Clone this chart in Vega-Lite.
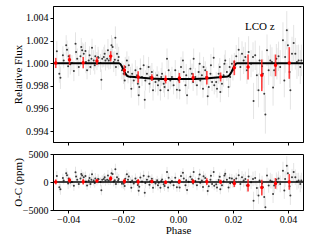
{
  "$schema": "https://vega.github.io/schema/vega-lite/v6.json",
  "padding": {"left": 11, "top": 5, "right": 5, "bottom": 0},
  "config": {
    "font": "Liberation Serif",
    "view": {"stroke": "black", "strokeWidth": 1},
    "axis": {"grid": false, "labelFont": "Liberation Serif", "titleFont": "Liberation Serif", "labelFontSize": 10, "titleFontSize": 11, "titleFontWeight": "normal", "labelColor": "black", "titleColor": "black", "tickColor": "black", "domainColor": "black", "tickSize": 3, "labelPadding": 2, "domainWidth": 1},
    "axisY": {"minExtent": 30, "maxExtent": 30, "titlePadding": 0}
  },
  "datasets": {
    "pts": [
      {"p":-0.0441,"f":1.00105,"r":1050,"e":0.0009,"er":900},{"p":-0.0432,"f":0.99907,"r":-930,"e":0.0008,"er":800},{"p":-0.0428,"f":0.99872,"r":-1280,"e":0.001,"er":1000},{"p":-0.0419,"f":1.0007,"r":700,"e":0.0008,"er":800},{"p":-0.0416,"f":1.00025,"r":250,"e":0.0007,"er":700},{"p":-0.0407,"f":1.00158,"r":1580,"e":0.0009,"er":900},{"p":-0.0404,"f":1.0012,"r":1200,"e":0.0008,"er":800},{"p":-0.04,"f":0.99972,"r":-280,"e":0.001,"er":1000},{"p":-0.0398,"f":1.00061,"r":610,"e":0.0008,"er":800},{"p":-0.0392,"f":0.9999,"r":-100,"e":0.0009,"er":900},
      {"p":-0.0386,"f":1.00002,"r":20,"e":0.0007,"er":700},{"p":-0.0379,"f":0.99931,"r":-690,"e":0.0009,"er":900},{"p":-0.0373,"f":1.00173,"r":1730,"e":0.001,"er":1000},{"p":-0.0371,"f":1.00099,"r":990,"e":0.0008,"er":800},{"p":-0.0367,"f":1.0004,"r":400,"e":0.0009,"er":900},{"p":-0.0361,"f":0.99966,"r":-340,"e":0.0008,"er":800},{"p":-0.0355,"f":1.00061,"r":610,"e":0.0009,"er":900},{"p":-0.0352,"f":1.00143,"r":1430,"e":0.0008,"er":800},{"p":-0.0349,"f":1.00114,"r":1140,"e":0.0007,"er":700},{"p":-0.0343,"f":1.00084,"r":840,"e":0.0009,"er":900},
      {"p":-0.0337,"f":1.00108,"r":1080,"e":0.0008,"er":800},{"p":-0.0335,"f":1.00011,"r":110,"e":0.001,"er":1000},{"p":-0.0331,"f":0.99937,"r":-630,"e":0.0008,"er":800},{"p":-0.0325,"f":1.00025,"r":250,"e":0.0009,"er":900},{"p":-0.0322,"f":1.0007,"r":700,"e":0.0008,"er":800},{"p":-0.0319,"f":0.99966,"r":-340,"e":0.0007,"er":700},{"p":-0.0315,"f":1.0004,"r":400,"e":0.0009,"er":900},{"p":-0.0313,"f":1.00137,"r":1370,"e":0.0008,"er":800},{"p":-0.0307,"f":1.00025,"r":250,"e":0.0009,"er":900},{"p":-0.0303,"f":0.99981,"r":-190,"e":0.0008,"er":800},
      {"p":-0.0301,"f":1.00061,"r":610,"e":0.001,"er":1000},{"p":-0.0295,"f":1.00019,"r":190,"e":0.0008,"er":800},{"p":-0.0291,"f":1.00055,"r":550,"e":0.0009,"er":900},{"p":-0.0289,"f":1.00049,"r":490,"e":0.0007,"er":700},{"p":-0.0282,"f":1.00002,"r":20,"e":0.0008,"er":800},{"p":-0.0279,"f":0.99854,"r":-1460,"e":0.0009,"er":900},{"p":-0.0276,"f":1.0004,"r":400,"e":0.0008,"er":800},{"p":-0.027,"f":1.00055,"r":550,"e":0.0009,"er":900},{"p":-0.0267,"f":1.00084,"r":840,"e":0.0008,"er":800},{"p":-0.0264,"f":1.00025,"r":250,"e":0.0009,"er":900},
      {"p":-0.0258,"f":1.0004,"r":400,"e":0.0008,"er":800},{"p":-0.0255,"f":1.00114,"r":1140,"e":0.001,"er":1000},{"p":-0.0252,"f":1.00025,"r":250,"e":0.0008,"er":800},{"p":-0.0246,"f":1.0004,"r":400,"e":0.0009,"er":900},{"p":-0.0242,"f":1.00158,"r":1580,"e":0.0009,"er":900},{"p":-0.0238,"f":1.00143,"r":1430,"e":0.0008,"er":800},{"p":-0.0234,"f":1.00011,"r":110,"e":0.0009,"er":900},{"p":-0.023,"f":1.00031,"r":310,"e":0.0008,"er":800},{"p":-0.0228,"f":1.00226,"r":2260,"e":0.001,"er":1000},{"p":-0.0226,"f":0.99966,"r":-340,"e":0.0008,"er":800},
      {"p":-0.0222,"f":1.00084,"r":840,"e":0.0009,"er":900},{"p":-0.0218,"f":1.00025,"r":250,"e":0.0008,"er":800},{"p":-0.0216,"f":1.00055,"r":550,"e":0.0009,"er":900},{"p":-0.0204,"f":0.99937,"r":-310,"e":0.0008,"er":800},{"p":-0.0198,"f":0.99907,"r":-310,"e":0.0009,"er":900},{"p":-0.0194,"f":0.99848,"r":-720,"e":0.0008,"er":800},{"p":-0.0192,"f":0.99966,"r":560,"e":0.0009,"er":900},{"p":-0.0186,"f":1.00025,"r":1370,"e":0.0008,"er":800},{"p":-0.0182,"f":0.99922,"r":400,"e":0.001,"er":1000},{"p":-0.0179,"f":0.99981,"r":1000,"e":0.0008,"er":800},
      {"p":-0.0173,"f":0.99878,"r":-10,"e":0.0009,"er":900},{"p":-0.017,"f":0.99775,"r":-1030,"e":0.0008,"er":800},{"p":-0.0167,"f":0.99907,"r":290,"e":0.0009,"er":900},{"p":-0.0161,"f":0.99848,"r":-290,"e":0.0008,"er":800},{"p":-0.0155,"f":0.99937,"r":620,"e":0.0009,"er":900},{"p":-0.0149,"f":0.99893,"r":180,"e":0.0008,"er":800},{"p":-0.0146,"f":0.99819,"r":-540,"e":0.001,"er":1000},{"p":-0.0143,"f":0.99716,"r":-1570,"e":0.0009,"er":900},{"p":-0.0141,"f":0.9979,"r":-830,"e":0.0008,"er":800},{"p":-0.0137,"f":0.99952,"r":800,"e":0.0009,"er":900},
      {"p":-0.0131,"f":0.99878,"r":80,"e":0.0008,"er":800},{"p":-0.0125,"f":0.99981,"r":1120,"e":0.0009,"er":900},{"p":-0.0121,"f":0.99677,"r":-1920,"e":0.0008,"er":800},{"p":-0.0119,"f":0.99848,"r":-200,"e":0.0009,"er":900},{"p":-0.0113,"f":0.99907,"r":400,"e":0.0008,"er":800},{"p":-0.0107,"f":0.99966,"r":1000,"e":0.0009,"er":900},{"p":-0.0104,"f":0.99819,"r":-470,"e":0.0008,"er":800},{"p":-0.0101,"f":0.99878,"r":130,"e":0.001,"er":1000},{"p":-0.0095,"f":0.99922,"r":580,"e":0.0008,"er":800},{"p":-0.0091,"f":0.9976,"r":-1040,"e":0.0009,"er":900},
      {"p":-0.0089,"f":0.99863,"r":-10,"e":0.0008,"er":800},{"p":-0.0082,"f":0.99834,"r":-290,"e":0.0009,"er":900},{"p":-0.0076,"f":0.99893,"r":310,"e":0.0008,"er":800},{"p":-0.0073,"f":0.99804,"r":-580,"e":0.0009,"er":900},{"p":-0.007,"f":0.99848,"r":-140,"e":0.0008,"er":800},{"p":-0.0064,"f":0.9976,"r":-1010,"e":0.0009,"er":900},{"p":-0.0061,"f":0.99878,"r":170,"e":0.0008,"er":800},{"p":-0.0058,"f":0.99907,"r":460,"e":0.001,"er":1000},{"p":-0.0052,"f":0.99819,"r":-410,"e":0.0008,"er":800},{"p":-0.0049,"f":0.9979,"r":-700,"e":0.0009,"er":900},
      {"p":-0.0046,"f":0.99848,"r":-120,"e":0.0008,"er":800},{"p":-0.004,"f":1.0004,"r":1800,"e":0.0009,"er":900},{"p":-0.0036,"f":0.9976,"r":-1000,"e":0.0008,"er":800},{"p":-0.0034,"f":0.99937,"r":770,"e":0.0009,"er":900},{"p":-0.0028,"f":0.99848,"r":-120,"e":0.0008,"er":800},{"p":-0.0022,"f":0.99878,"r":180,"e":0.0009,"er":900},{"p":-0.0016,"f":0.99804,"r":-560,"e":0.0008,"er":800},{"p":-0.001,"f":0.99937,"r":770,"e":0.0009,"er":900},{"p":-0.0004,"f":0.99766,"r":-940,"e":0.0008,"er":800},
      {"p":0.0002,"f":0.99848,"r":-120,"e":0.0009,"er":900},{"p":0.0006,"f":0.9976,"r":-1000,"e":0.0008,"er":800},{"p":0.0011,"f":0.99966,"r":1060,"e":0.0009,"er":900},{"p":0.0018,"f":1.00025,"r":1650,"e":0.0008,"er":800},{"p":0.0021,"f":0.99922,"r":620,"e":0.0009,"er":900},{"p":0.0027,"f":0.99804,"r":-560,"e":0.0008,"er":800},{"p":0.003,"f":0.99893,"r":330,"e":0.001,"er":1000},{"p":0.0033,"f":0.99716,"r":-1440,"e":0.0008,"er":800},{"p":0.0039,"f":0.99863,"r":30,"e":0.0009,"er":900},{"p":0.0045,"f":0.99952,"r":920,"e":0.0008,"er":800},
      {"p":0.0051,"f":0.99907,"r":470,"e":0.0009,"er":900},{"p":0.0055,"f":0.99834,"r":-280,"e":0.0008,"er":800},{"p":0.0057,"f":1.0004,"r":1780,"e":0.0009,"er":900},{"p":0.0063,"f":0.99878,"r":160,"e":0.0008,"er":800},{"p":0.0069,"f":0.99804,"r":-580,"e":0.0009,"er":900},{"p":0.0075,"f":0.99922,"r":600,"e":0.0008,"er":800},{"p":0.0079,"f":0.99996,"r":1340,"e":0.001,"er":1000},{"p":0.0081,"f":0.99848,"r":-150,"e":0.0008,"er":800},{"p":0.0087,"f":0.99893,"r":290,"e":0.0009,"er":900},{"p":0.0091,"f":0.99775,"r":-890,"e":0.0008,"er":800},
      {"p":0.0093,"f":0.99966,"r":1020,"e":0.0009,"er":900},{"p":0.0099,"f":0.99937,"r":720,"e":0.0008,"er":800},{"p":0.0103,"f":0.99878,"r":130,"e":0.0009,"er":900},{"p":0.0108,"f":0.99707,"r":-1590,"e":0.0008,"er":800},{"p":0.0112,"f":0.9979,"r":-770,"e":0.0009,"er":900},{"p":0.0118,"f":0.99907,"r":390,"e":0.0008,"er":800},{"p":0.012,"f":0.99981,"r":1130,"e":0.001,"er":1000},{"p":0.0124,"f":0.99834,"r":-350,"e":0.0008,"er":800},{"p":0.013,"f":1.00049,"r":1790,"e":0.0009,"er":900},{"p":0.0132,"f":0.99804,"r":-660,"e":0.0008,"er":800},
      {"p":0.0139,"f":0.99834,"r":-380,"e":0.0009,"er":900},{"p":0.0142,"f":0.99775,"r":-970,"e":0.0008,"er":800},{"p":0.0148,"f":0.99907,"r":340,"e":0.0009,"er":900},{"p":0.0152,"f":0.99966,"r":920,"e":0.0008,"er":800},{"p":0.0154,"f":0.99745,"r":-1290,"e":0.0009,"er":900},{"p":0.016,"f":0.99819,"r":-570,"e":0.0008,"er":800},{"p":0.0166,"f":0.99893,"r":150,"e":0.001,"er":1000},{"p":0.0169,"f":0.99996,"r":1180,"e":0.0008,"er":800},{"p":0.0172,"f":1.00025,"r":1460,"e":0.0009,"er":900},{"p":0.0178,"f":0.99922,"r":410,"e":0.0008,"er":800},
      {"p":0.0184,"f":0.9979,"r":-960,"e":0.0009,"er":900},{"p":0.0188,"f":0.99966,"r":710,"e":0.0008,"er":800},{"p":0.019,"f":0.99878,"r":-240,"e":0.0009,"er":900},{"p":0.0196,"f":0.99996,"r":640,"e":0.0008,"er":800},{"p":0.02,"f":0.99937,"r":-130,"e":0.0009,"er":900},{"p":0.0205,"f":1.00011,"r":370,"e":0.0008,"er":800},{"p":0.0212,"f":1.00061,"r":630,"e":0.001,"er":1000},{"p":0.0221,"f":1.0012,"r":1200,"e":0.0011,"er":1100},{"p":0.0227,"f":0.99966,"r":-340,"e":0.0012,"er":1200},{"p":0.0233,"f":1.00084,"r":840,"e":0.0011,"er":1100},
      {"p":0.0239,"f":1.00025,"r":250,"e":0.0012,"er":1200},{"p":0.0245,"f":1.00055,"r":550,"e":0.0013,"er":1300},{"p":0.0251,"f":0.99937,"r":-630,"e":0.0012,"er":1200},{"p":0.0257,"f":1.00099,"r":990,"e":0.0014,"er":1400},{"p":0.0266,"f":0.99996,"r":-40,"e":0.0012,"er":1200},{"p":0.0273,"f":1.00055,"r":550,"e":0.0013,"er":1300},{"p":0.0275,"f":0.99666,"r":-3340,"e":0.0016,"er":1600},{"p":0.0281,"f":1.0007,"r":700,"e":0.0013,"er":1300},{"p":0.0287,"f":0.99893,"r":-1070,"e":0.0014,"er":1400},{"p":0.0293,"f":0.9976,"r":-2400,"e":0.0015,"er":1500},
      {"p":0.0297,"f":1.00025,"r":250,"e":0.0013,"er":1300},{"p":0.0306,"f":0.99972,"r":-280,"e":0.0014,"er":1400},{"p":0.0309,"f":0.99907,"r":-930,"e":0.0013,"er":1300},{"p":0.0314,"f":0.9973,"r":-2700,"e":0.0016,"er":1600},{"p":0.0318,"f":0.99547,"r":-4530,"e":0.0017,"er":1700},{"p":0.0324,"f":1.00114,"r":1140,"e":0.0014,"er":1400},{"p":0.033,"f":0.99937,"r":-630,"e":0.0013,"er":1300},{"p":0.0336,"f":1.00025,"r":250,"e":0.0014,"er":1400},{"p":0.0342,"f":1.00011,"r":110,"e":0.0013,"er":1300},{"p":0.0346,"f":0.99784,"r":-2160,"e":0.0016,"er":1600},
      {"p":0.035,"f":0.99937,"r":-630,"e":0.0014,"er":1400},{"p":0.0358,"f":1.0004,"r":400,"e":0.0013,"er":1300},{"p":0.036,"f":0.99996,"r":-40,"e":0.0014,"er":1400},{"p":0.0366,"f":1.00061,"r":610,"e":0.0013,"er":1300},{"p":0.0372,"f":0.99966,"r":-340,"e":0.0015,"er":1500},{"p":0.0382,"f":1.00202,"r":2020,"e":0.0016,"er":1600},{"p":0.0387,"f":0.99848,"r":-1520,"e":0.0015,"er":1500},{"p":0.039,"f":1.00055,"r":550,"e":0.0014,"er":1400},{"p":0.0396,"f":1.00291,"r":2910,"e":0.0017,"er":1700},{"p":0.04,"f":1.00158,"r":1580,"e":0.0015,"er":1500},
      {"p":0.0406,"f":0.99922,"r":-780,"e":0.0014,"er":1400},{"p":0.0409,"f":0.9976,"r":-2400,"e":0.0017,"er":1700},{"p":0.0415,"f":1.00084,"r":840,"e":0.0015,"er":1500},{"p":0.0421,"f":1.00179,"r":1790,"e":0.0016,"er":1600},{"p":0.0427,"f":1.00084,"r":840,"e":0.0014,"er":1400},{"p":0.0433,"f":1.00011,"r":110,"e":0.0015,"er":1500},{"p":0.0439,"f":1.00025,"r":250,"e":0.0014,"er":1400},{"p":0.0445,"f":0.99966,"r":-340,"e":0.0015,"er":1500},{"p":0.0449,"f":1.00025,"r":250,"e":0.0014,"er":1400}
    ],
    "bins": [
      {"p":-0.0445,"f":1.00002,"r":20,"e":0.00045,"er":450},
      {"p":-0.0395,"f":1.00031,"r":310,"e":0.00045,"er":450},
      {"p":-0.0345,"f":1.00005,"r":50,"e":0.0005,"er":500},
      {"p":-0.0295,"f":1.0002,"r":200,"e":0.00035,"er":350},
      {"p":-0.0245,"f":1.00061,"r":610,"e":0.00045,"er":450},
      {"p":-0.0195,"f":0.99937,"r":120,"e":0.00045,"er":450},
      {"p":-0.0145,"f":0.99878,"r":50,"e":0.0005,"er":500},
      {"p":-0.0095,"f":0.99872,"r":80,"e":0.0003,"er":300},
      {"p":-0.0045,"f":0.99856,"r":-50,"e":0.00035,"er":350},
      {"p":0.0005,"f":0.99869,"r":90,"e":0.00045,"er":450},
      {"p":0.0055,"f":0.99872,"r":100,"e":0.0004,"er":400},
      {"p":0.0105,"f":0.99872,"r":60,"e":0.0006,"er":600},
      {"p":0.0155,"f":0.99878,"r":20,"e":0.0004,"er":400},
      {"p":0.0205,"f":0.9996,"r":-250,"e":0.00066,"er":660},
      {"p":0.0255,"f":0.99966,"r":-600,"e":0.0011,"er":1100},
      {"p":0.0305,"f":0.99893,"r":-1000,"e":0.0014,"er":1400},
      {"p":0.0355,"f":0.99981,"r":-250,"e":0.00096,"er":960},
      {"p":0.0405,"f":1.00002,"r":20,"e":0.0014,"er":1400}
    ],
    "model": [
      {"p":-0.0455,"f":1.0},{"p":-0.0215,"f":1.0},{"p":-0.021,"f":0.99993},{"p":-0.0205,"f":0.99975},{"p":-0.02,"f":0.9995},{"p":-0.0195,"f":0.99925},{"p":-0.019,"f":0.99903},{"p":-0.0185,"f":0.99887},{"p":-0.018,"f":0.99882},{"p":-0.016,"f":0.99877},{"p":-0.014,"f":0.99873},{"p":-0.012,"f":0.99869},{"p":-0.01,"f":0.99865},{"p":-0.008,"f":0.99863},{"p":-0.006,"f":0.99861},{"p":-0.003,"f":0.9986},{"p":0.0,"f":0.9986},
      {"p":0.003,"f":0.9986},{"p":0.006,"f":0.99861},{"p":0.008,"f":0.99863},{"p":0.01,"f":0.99865},{"p":0.012,"f":0.99869},{"p":0.014,"f":0.99873},{"p":0.016,"f":0.99877},{"p":0.018,"f":0.99882},{"p":0.0185,"f":0.99887},{"p":0.019,"f":0.99903},{"p":0.0195,"f":0.99925},{"p":0.02,"f":0.9995},{"p":0.0205,"f":0.99975},{"p":0.021,"f":0.99993},{"p":0.0215,"f":1.0},{"p":0.0455,"f":1.0}
    ],
    "labels": [
      {"p":0.0244,"f":1.0032,"t":"LCO","s":"normal"},
      {"p":0.0334,"f":1.0032,"t":"z","s":"italic"}
    ],
    "zero": [{"r":0}]
  },
  "vconcat": [
    {
      "width": 250,
      "height": 136,
      "encoding": {
        "x": {"field": "p", "type": "quantitative", "scale": {"domain": [-0.0455, 0.0455], "nice": false, "zero": false}, "axis": {"labels": false, "title": null, "values": [-0.04, -0.02, 0, 0.02, 0.04]}},
        "y": {"field": "f", "type": "quantitative", "scale": {"domain": [0.99303, 1.00506], "nice": false, "zero": false}, "axis": {"title": "Relative Flux", "values": [0.994, 0.996, 0.998, 1.0, 1.002, 1.004], "format": ".3f"}}
      },
      "layer": [
        {"data": {"name": "pts"}, "mark": {"type": "errorbar", "color": "#e4e4e4", "thickness": 1, "clip": true}, "encoding": {"yError": {"field": "e"}}},
        {"data": {"name": "pts"}, "mark": {"type": "circle", "size": 4, "color": "#3a3a3a", "opacity": 1, "clip": true}},
        {"data": {"name": "model"}, "mark": {"type": "line", "color": "black", "strokeWidth": 2, "clip": true}},
        {"data": {"name": "bins"}, "mark": {"type": "errorbar", "color": "#ff2020", "thickness": 1.6, "opacity": 0.85}, "encoding": {"yError": {"field": "e"}}},
        {"data": {"name": "bins"}, "mark": {"type": "circle", "size": 12, "color": "red", "opacity": 1}},
        {"data": {"name": "labels"}, "mark": {"type": "text", "align": "left", "baseline": "middle", "fontSize": 11, "font": "Liberation Serif", "color": "black"}, "encoding": {"text": {"field": "t"}, "fontStyle": {"field": "s", "type": "nominal", "scale": null}}}
      ]
    },
    {
      "width": 250,
      "height": 56,
      "encoding": {
        "x": {"field": "p", "type": "quantitative", "scale": {"domain": [-0.0455, 0.0455], "nice": false, "zero": false}, "axis": {"title": "Phase", "values": [-0.04, -0.02, 0, 0.02, 0.04], "format": ".2f", "titlePadding": 0, "labelPadding": 1}},
        "y": {"field": "r", "type": "quantitative", "scale": {"domain": [-5000, 5000], "nice": false, "zero": false}, "axis": {"title": "O-C (ppm)", "values": [-5000, 0, 5000], "format": "d"}}
      },
      "layer": [
        {"data": {"name": "pts"}, "mark": {"type": "errorbar", "color": "#e4e4e4", "thickness": 1, "clip": true}, "encoding": {"yError": {"field": "er"}}},
        {"data": {"name": "pts"}, "mark": {"type": "circle", "size": 4, "color": "#3a3a3a", "opacity": 1, "clip": true}},
        {"data": {"name": "zero"}, "mark": {"type": "rule", "color": "black", "strokeWidth": 1.5}, "encoding": {"y": {"field": "r", "type": "quantitative"}, "x": null}},
        {"data": {"name": "bins"}, "mark": {"type": "errorbar", "color": "#ff2020", "thickness": 1.6, "opacity": 0.85}, "encoding": {"yError": {"field": "er"}}},
        {"data": {"name": "bins"}, "mark": {"type": "circle", "size": 12, "color": "red", "opacity": 1}}
      ]
    }
  ],
  "spacing": 2
}
